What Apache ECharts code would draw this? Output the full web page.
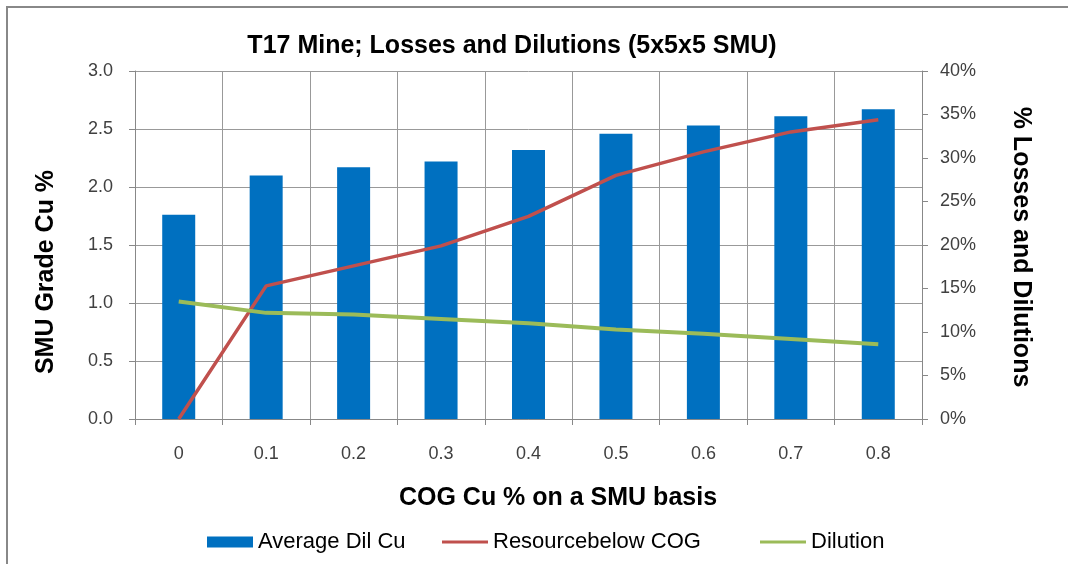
<!DOCTYPE html>
<html>
<head>
<meta charset="utf-8">
<script src="https://cdn.jsdelivr.net/npm/echarts@6/dist/echarts.min.js"></script>
<style>
  html, body { margin: 0; padding: 0; background: #fff; }
  #chart { width: 1068px; height: 564px; }
</style>
</head>
<body>
<div id="chart"></div>
<script>
// Cut-off grade (COG, Cu %) categories
const cogCategories = ['0', '0.1', '0.2', '0.3', '0.4', '0.5', '0.6', '0.7', '0.8'];
// Average diluted Cu grade (%) per cut-off
const averageDilCu = [1.76, 2.10, 2.17, 2.22, 2.32, 2.46, 2.53, 2.61, 2.67];
// Resource below COG (%)
const resourceBelowCog = [0, 15.3, 17.6, 19.9, 23.3, 28.0, 30.7, 33.0, 34.4];
// Dilution (%)
const dilution = [13.5, 12.2, 12.0, 11.5, 11.0, 10.3, 9.8, 9.2, 8.6];

const FONT = '"Liberation Sans", Arial, sans-serif';
const LINE_ICON = 'path://M0,0 H46 V3 H0 Z';
const chart = echarts.init(document.getElementById('chart'), null, { renderer: 'canvas' });

// one legend block per entry so each sits at its own spot in the row
function legendAt(left, item) {
  return {
    left: left,
    top: 531,
    padding: 0,
    itemWidth: 46,
    itemHeight: 11,
    symbolKeepAspect: true,
    textStyle: { fontFamily: FONT, fontSize: 22, color: '#000' },
    data: [item]
  };
}

chart.setOption({
  backgroundColor: '#ffffff',
  animation: false,
  title: {
    text: 'T17 Mine; Losses and Dilutions (5x5x5 SMU)',
    left: 507,
    textAlign: 'center',
    top: 29,
    textStyle: { fontFamily: FONT, fontSize: 25, fontWeight: 'bold', color: '#000' }
  },
  grid: { left: 135, right: 146, top: 71, bottom: 145 },
  legend: [
    legendAt(207, { name: 'Average Dil Cu', icon: 'rect' }),
    legendAt(442, { name: 'Resourcebelow COG', icon: LINE_ICON }),
    legendAt(760, { name: 'Dilution', icon: LINE_ICON })
  ],
  xAxis: {
    type: 'category',
    data: cogCategories,
    boundaryGap: true,
    axisLine: { lineStyle: { color: '#888', width: 1 } },
    axisTick: { show: true, length: 6, lineStyle: { color: '#888' } },
    axisLabel: { margin: 26, fontFamily: FONT, fontSize: 18, color: '#404040' },
    splitLine: { show: true, lineStyle: { color: '#999', width: 1 } }
  },
  yAxis: [
    {
      type: 'value',
      min: 0, max: 3, interval: 0.5,
      axisLine: { show: true, lineStyle: { color: '#888' } },
      axisTick: { show: true, length: 6, lineStyle: { color: '#888' } },
      axisLabel: {
        margin: 22, fontFamily: FONT, fontSize: 18, color: '#404040',
        formatter: v => v.toFixed(1)
      },
      splitLine: { show: true, lineStyle: { color: '#999', width: 1 } }
    },
    {
      type: 'value',
      min: 0, max: 40, interval: 5,
      axisLine: { show: true, lineStyle: { color: '#888' } },
      axisTick: { show: true, length: 6, lineStyle: { color: '#888' } },
      axisLabel: { margin: 18, fontFamily: FONT, fontSize: 18, color: '#404040', formatter: '{value}%' },
      splitLine: { show: false }
    }
  ],
  graphic: [
    // frame edges
    {
      type: 'rect', silent: true, z: 100,
      shape: { x: 7, y: 7, width: 1200, height: 700 },
      style: { fill: null, stroke: '#888', lineWidth: 2 }
    },
    {
      type: 'text', silent: true,
      x: 46, y: 272, rotation: Math.PI / 2,
      style: {
        text: 'SMU Grade Cu %', x: 0, y: 0, align: 'center', verticalAlign: 'middle',
        font: 'bold 25px ' + FONT, fill: '#000'
      }
    },
    {
      type: 'text', silent: true,
      x: 1021, y: 247, rotation: -Math.PI / 2,
      style: {
        text: '% Losses and Dilutions', x: 0, y: 0, align: 'center', verticalAlign: 'middle',
        font: 'bold 25px ' + FONT, fill: '#000'
      }
    },
    {
      type: 'text', silent: true,
      x: 558, y: 498,
      style: {
        text: 'COG Cu % on a SMU basis', x: 0, y: 0, align: 'center', verticalAlign: 'middle',
        font: 'bold 25px ' + FONT, fill: '#000'
      }
    }
  ],
  series: [
    {
      name: 'Average Dil Cu',
      type: 'bar',
      yAxisIndex: 0,
      data: averageDilCu,
      barWidth: 33,
      itemStyle: { color: '#0070C0' }
    },
    {
      name: 'Resourcebelow COG',
      type: 'line',
      yAxisIndex: 1,
      data: resourceBelowCog,
      symbol: 'none',
      lineStyle: { color: '#C0504D', width: 3.5 },
      itemStyle: { color: '#C0504D' }
    },
    {
      name: 'Dilution',
      type: 'line',
      yAxisIndex: 1,
      data: dilution,
      symbol: 'none',
      lineStyle: { color: '#9BBB59', width: 4 },
      itemStyle: { color: '#9BBB59' }
    }
  ]
});
</script>
</body>
</html>
